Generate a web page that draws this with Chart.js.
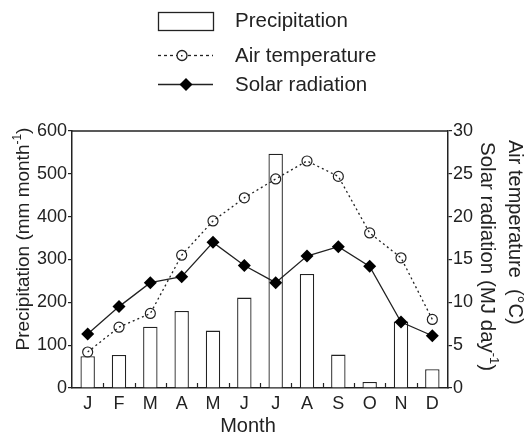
<!DOCTYPE html>
<html>
<head>
<meta charset="utf-8">
<script src="https://cdn.jsdelivr.net/npm/chart.js@4.4.1/dist/chart.umd.min.js"></script>
<style>
  html, body { margin: 0; padding: 0; background: #fff; }
  #wrap { width: 530px; height: 434px; }
</style>
</head>
<body>
<div id="wrap"><canvas id="grafico" width="530" height="434"></canvas></div>
<script>
// --- Dados ---
const meses = ['J', 'F', 'M', 'A', 'M', 'J', 'J', 'A', 'S', 'O', 'N', 'D'];
const precipitacao = [74, 77, 143, 180, 134, 211, 547, 266, 78, 14, 155, 44];
const temperatura = [4.2, 7.1, 8.7, 15.5, 19.5, 22.2, 24.4, 26.5, 24.7, 18.1, 15.2, 8.0];
const radiacao = [6.3, 9.5, 12.3, 13.0, 17.0, 14.3, 12.3, 15.4, 16.5, 14.2, 7.7, 6.1];
const ticksPrecip = [0, 100, 200, 300, 400, 500, 600];
const ticksDireita = [0, 5, 10, 15, 20, 25, 30];

const corLinha = '#222';
const fonte = 'Liberation Sans, Arial, sans-serif';

// desenha texto com expoente (ex.: month-1)
const textoComExpoente = (ctx, partes, tam, x, y, alinhar) => {
    const tamSup = Math.round(tam * 0.62);
    let larg = 0;
    partes.forEach(p => {
        ctx.font = `${p.sup ? tamSup : tam}px ${fonte}`;
        larg += ctx.measureText(p.t).width;
    });
    let cx = alinhar === 'center' ? x - larg / 2 : x;
    partes.forEach(p => {
        ctx.font = `${p.sup ? tamSup : tam}px ${fonte}`;
        ctx.fillText(p.t, cx, p.sup ? y - tam * 0.42 : y);
        cx += ctx.measureText(p.t).width;
    });
};

const extras = {
    id: 'extras',
    afterDraw(chart) {
        const { ctx, chartArea: area, scales } = chart;
        ctx.save();
        ctx.strokeStyle = corLinha;
        ctx.fillStyle = corLinha;
        ctx.lineWidth = 1.5;

        // borda superior
        ctx.beginPath();
        ctx.moveTo(area.left, area.top);
        ctx.lineTo(area.right, area.top);
        ctx.stroke();

        // marcas internas entre os meses
        ctx.lineWidth = 1.2;
        for (let i = 1; i < meses.length; i++) {
            const x = Math.round((scales.x.getPixelForValue(i - 1) + scales.x.getPixelForValue(i)) / 2) + 0.5;
            ctx.beginPath();
            ctx.moveTo(x, area.bottom);
            ctx.lineTo(x, area.bottom - 5);
            ctx.stroke();
        }

        ctx.textBaseline = 'alphabetic';
        ctx.textAlign = 'left';

        // titulo eixo x
        ctx.font = `20px ${fonte}`;
        ctx.textAlign = 'center';
        ctx.fillText('Month', 248, 432);
        ctx.textAlign = 'left';

        // titulo eixo esquerdo
        ctx.save();
        ctx.translate(29, 239);
        ctx.rotate(-Math.PI / 2);
        textoComExpoente(ctx, [{ t: 'Precipitation (mm month' }, { t: '-1', sup: true }, { t: ')' }], 19, 0, 0, 'center');
        ctx.restore();

        // titulos eixo direito
        ctx.save();
        ctx.translate(509, 140);
        ctx.rotate(Math.PI / 2);
        textoComExpoente(ctx, [{ t: 'Air temperature  (°C)' }], 20, 0, 0, 'left');
        ctx.restore();

        ctx.save();
        ctx.translate(481, 142);
        ctx.rotate(Math.PI / 2);
        textoComExpoente(ctx, [{ t: 'Solar radiation (MJ day' }, { t: '-1', sup: true }, { t: ')' }], 20.5, 0, 0, 'left');
        ctx.restore();

        // legenda
        ctx.lineWidth = 1.3;
        ctx.strokeStyle = corLinha;
        ctx.strokeRect(158.5, 12.5, 55, 18);

        ctx.setLineDash([3, 3]);
        ctx.beginPath();
        ctx.moveTo(158, 55.5);
        ctx.lineTo(213, 55.5);
        ctx.stroke();
        ctx.setLineDash([]);
        ctx.fillStyle = '#fff';
        ctx.beginPath();
        ctx.arc(182, 55.5, 5, 0, Math.PI * 2);
        ctx.fill();
        ctx.stroke();
        ctx.fillStyle = corLinha;
        ctx.fillRect(181, 55, 1.5, 1.5);

        ctx.beginPath();
        ctx.moveTo(158, 84.5);
        ctx.lineTo(213, 84.5);
        ctx.stroke();
        ctx.fillStyle = '#000';
        ctx.beginPath();
        ctx.moveTo(186, 78);
        ctx.lineTo(192.5, 84.5);
        ctx.lineTo(186, 91);
        ctx.lineTo(179.5, 84.5);
        ctx.closePath();
        ctx.fill();

        ctx.fillStyle = corLinha;
        ctx.font = `20.5px ${fonte}`;
        ctx.fillText('Precipitation', 235, 27);
        ctx.fillText('Air temperature', 235, 62);
        ctx.fillText('Solar radiation', 235, 91);

        ctx.restore();
    }
};

const eixoY = (pos, min, max, passo, largura) => ({
    type: 'linear',
    position: pos,
    min: min,
    max: max,
    afterFit: s => { s.width = largura; },
    afterBuildTicks: s => {
        s.ticks = (pos === 'left' ? ticksPrecip : ticksDireita).map(v => ({ value: v }));
    },
    ticks: { stepSize: passo, color: corLinha, font: { family: fonte, size: 18 }, padding: 1 },
    grid: { drawOnChartArea: false, drawTicks: true, tickLength: 4, color: corLinha, lineWidth: 1.2 },
    border: { display: true, color: corLinha, width: 1.5 }
});

new Chart(document.getElementById('grafico').getContext('2d'), {
    type: 'bar',
    data: {
        labels: meses,
        datasets: [
            {
                type: 'line',
                label: 'Solar radiation',
                data: radiacao,
                yAxisID: 'y1',
                borderColor: corLinha,
                borderWidth: 1.3,
                tension: 0,
                pointStyle: 'rectRot',
                pointRadius: 6.5,
                pointBackgroundColor: '#000',
                pointBorderColor: '#000',
                pointBorderWidth: 0,
                order: 1
            },
            {
                type: 'line',
                label: 'Air temperature',
                data: temperatura,
                yAxisID: 'y1',
                borderColor: corLinha,
                borderWidth: 1.3,
                borderDash: [2, 3],
                tension: 0,
                pointStyle: 'circle',
                pointRadius: 5,
                pointBackgroundColor: 'rgba(0,0,0,0)',
                pointBorderColor: corLinha,
                pointBorderWidth: 1.2,
                order: 2
            },
            {
                label: 'Precipitation',
                data: precipitacao,
                yAxisID: 'y',
                backgroundColor: '#fff',
                borderColor: corLinha,
                borderWidth: 1.3,
                barPercentage: 0.46,
                categoryPercentage: 1,
                order: 3
            }
        ]
    },
    options: {
        responsive: false,
        animation: false,
        layout: { padding: { top: 131, left: 0, right: 0, bottom: 0 } },
        plugins: { legend: { display: false }, tooltip: { enabled: false } },
        scales: {
            x: {
                offset: true,
                afterFit: s => { s.height = 46; },
                ticks: { color: corLinha, font: { family: fonte, size: 18 }, padding: 5, maxRotation: 0, autoSkip: false },
                grid: { drawOnChartArea: false, drawTicks: false, color: corLinha },
                border: { display: true, color: corLinha, width: 1.5 }
            },
            y: eixoY('left', 0, 600, 100, 72),
            y1: eixoY('right', 0, 30, 5, 82)
        }
    },
    plugins: [extras]
});
</script>
</body>
</html>
